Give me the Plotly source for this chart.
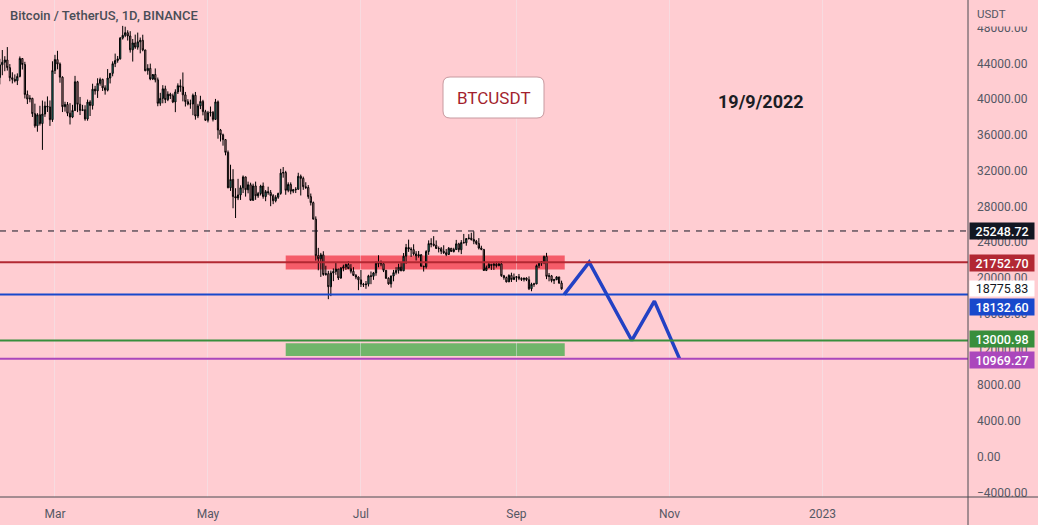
import pandas as pd
import plotly.graph_objects as go

# ---------------- data ----------------
dates = pd.date_range("2022-02-07", "2022-09-19", freq="D")

opens = [
    # Feb 7-28
    42400, 43840, 44120, 44380, 43520, 42390, 42210, 42050, 42540, 44540, 43870, 40520, 40000, 40090, 38370, 37010, 38250, 37260, 38330, 39220, 39120, 37700,
    # Mar
    43190, 44420, 43920, 42450, 39150, 39400, 38420, 37990, 38730, 41940, 39420, 38730, 38810, 37780, 39670, 39280, 41110, 40920, 41760, 42200, 41260, 41000, 42360, 42880, 43960, 44310, 44500, 46820, 47130, 47430, 47060,
    # Apr
    45510, 46280, 45810, 46410, 46580, 45500, 43170, 43440, 42250, 42750, 42160, 39530, 40080, 41150, 39940, 40550, 40380, 39680, 40800, 41500, 41360, 40480, 39710, 39450, 39450, 40430, 38110, 39240, 39740, 38600,
    # May
    37630, 38470, 38530, 37730, 39690, 36550, 36010, 35470, 34040, 30080, 31010, 29100, 28940, 29280, 30080, 31300, 29860, 30420, 28680, 30290, 29180, 29430, 30280, 29100, 29650, 29540, 29200, 28630, 29020, 29450, 31720,
    # Jun
    31790, 29800, 30450, 29700, 29860, 29910, 31370, 31130, 30200, 30110, 29090, 28420, 26570, 22490, 22140, 22580, 20380, 20470, 19010, 20550, 20710, 20990, 19990, 21110, 21230, 21500, 21030, 20740, 20280, 20100,
    # Jul
    19780, 19300, 19240, 19300, 20230, 20180, 20560, 21640, 21590, 21590, 20850, 19960, 19330, 20210, 20590, 20830, 21200, 20790, 22430, 23400, 23230, 23160, 22680, 22460, 22580, 21310, 21250, 22950, 23840, 23780, 23640,
    # Aug
    23290, 23270, 22980, 22820, 22620, 23310, 22950, 23170, 23810, 23150, 23950, 23930, 24400, 24440, 24300, 24100, 23850, 23340, 23190, 20830, 21140, 21520, 21400, 21530, 21370, 21570, 20240, 20040, 19550, 20280, 19810,
    # Sep 1-19
    20050, 20130, 19950, 19830, 19990, 19800, 18790, 19290, 19320, 21360, 21650, 21830, 22400, 20170, 20230, 19700, 19800, 20110, 19420,
]
highs = [
    44500, 45490, 44800, 45820, 43920, 43000, 42760, 42880, 44770, 44580, 44170, 40960, 40440, 40140, 39490, 38430, 39250, 39840, 39730, 40300, 39850, 44230,
    44950, 45400, 44100, 42550, 39700, 39670, 39550, 39360, 42600, 42040, 40240, 39360, 39310, 39950, 39870, 41720, 41480, 42330, 42400, 42290, 41540, 43360, 42890, 44220, 45090, 44820, 46950, 48190, 48100, 47700, 47600,
    46720, 47210, 47440, 46890, 47200, 45510, 43900, 43970, 42800, 43430, 42410, 40700, 41560, 41500, 40870, 40710, 40620, 41100, 41760, 42200, 42980, 40800, 39990, 39940, 40620, 40800, 39470, 40370, 39920, 38800,
    38680, 39170, 38650, 40020, 39850, 36660, 36140, 35500, 34250, 32660, 32160, 30030, 31080, 30350, 31460, 31310, 30770, 30650, 30540, 30770, 29620, 30420, 30670, 29830, 30200, 29830, 29370, 29250, 29530, 32200, 32400,
    31980, 30690, 30680, 29950, 30150, 31760, 31560, 31330, 30700, 30380, 29440, 28540, 26880, 23360, 22800, 22980, 21360, 20790, 20820, 21060, 21720, 21000, 21200, 21480, 21600, 21870, 21540, 21200, 20430, 20170,
    20880, 19440, 19650, 20350, 20720, 20670, 21840, 22530, 21950, 21600, 20880, 20060, 20260, 20890, 21200, 21590, 21680, 22780, 23800, 24280, 23430, 23760, 22990, 23010, 22670, 21350, 23100, 24200, 24440, 24670, 24190,
    23510, 23460, 23650, 23230, 23450, 23350, 23370, 24250, 23930, 24230, 24920, 24450, 24890, 25050, 25210, 24250, 24450, 23600, 23200, 21380, 21690, 21520, 21670, 21820, 21820, 21890, 20340, 20150, 20400, 20580, 20490,
    20200, 20440, 20060, 20000, 20060, 20170, 19460, 19450, 21500, 21790, 21860, 22490, 22800, 20540, 20330, 19890, 20190, 20110, 19690,
]
lows = [
    41650, 42670, 43120, 43190, 42000, 41750, 41870, 41570, 42430, 43310, 40070, 39450, 39640, 38000, 36800, 36350, 37040, 34320, 38010, 38560, 37000, 37450,
    42810, 43330, 41830, 38550, 38600, 38090, 37160, 37870, 38660, 38540, 38220, 38660, 37580, 37580, 38110, 38830, 40500, 40130, 41500, 40910, 40500, 40860, 41750, 42550, 43580, 44070, 44420, 46660, 46930, 46550, 45200,
    44200, 45620, 45530, 45120, 45350, 43120, 42730, 42110, 42130, 41870, 39200, 39250, 39530, 39550, 39770, 40010, 39550, 38540, 40570, 40820, 39750, 39170, 39300, 38920, 38200, 37700, 37870, 38880, 38180, 37580,
    37390, 38050, 37500, 37670, 35570, 35260, 34790, 33710, 30030, 29730, 27790, 26700, 28700, 28720, 29490, 29090, 29460, 28650, 28620, 28730, 28950, 29220, 28860, 28580, 29300, 28020, 28250, 28450, 28840, 29300, 31210,
    29300, 29580, 29350, 29480, 29490, 29880, 29220, 29850, 29940, 28850, 28100, 26560, 21930, 20850, 20110, 20230, 20250, 17620, 17960, 19640, 20350, 19770, 19900, 20740, 20900, 21000, 20500, 20210, 19850, 18630,
    18980, 18980, 18780, 19040, 19300, 19780, 20240, 21190, 21300, 20650, 19880, 19240, 18910, 19620, 20380, 20480, 20760, 20760, 21580, 22910, 22340, 22500, 21950, 22260, 21250, 20710, 21040, 22580, 23420, 23510, 23230,
    22850, 22660, 22680, 22430, 22590, 22930, 22840, 23150, 22870, 22660, 23860, 23600, 24290, 24170, 23770, 23690, 23180, 23100, 20780, 20760, 21100, 20890, 20890, 21160, 21310, 20120, 19800, 19500, 19550, 19540, 19800,
    19560, 19750, 19650, 19600, 19640, 18640, 18510, 19000, 19300, 21100, 21350, 21540, 19860, 19620, 19500, 19320, 19750, 19340, 18680,
]
closes = [
    43840, 44120, 44380, 43520, 42390, 42210, 42050, 42540, 44540, 43870, 40520, 40000, 40090, 38370, 37010, 38250, 37260, 38330, 39220, 39120, 37700, 43190,
    44420, 43920, 42450, 39150, 39400, 38420, 37990, 38730, 41940, 39420, 38730, 38810, 37780, 39670, 39280, 41110, 40920, 41760, 42200, 41260, 41000, 42360, 42880, 43960, 44310, 44500, 46820, 47130, 47430, 47060, 45510,
    46280, 45810, 46410, 46580, 45500, 43170, 43440, 42250, 42750, 42160, 39530, 40080, 41150, 39940, 40550, 40380, 39680, 40800, 41500, 41360, 40480, 39710, 39450, 39450, 40430, 38110, 39240, 39740, 38600, 37630,
    38470, 38530, 37730, 39690, 36550, 36010, 35470, 34040, 30080, 31010, 29100, 28940, 29280, 30080, 31300, 29860, 30420, 28680, 30290, 29180, 29430, 30280, 29100, 29650, 29540, 29200, 28630, 29020, 29450, 31720, 31790,
    29800, 30450, 29700, 29860, 29910, 31370, 31130, 30200, 30110, 29090, 28420, 26570, 22490, 22140, 22580, 20380, 20470, 19010, 20550, 20710, 20990, 19990, 21110, 21230, 21500, 21030, 20740, 20280, 20100, 19780,
    19300, 19240, 19300, 20230, 20180, 20560, 21640, 21590, 21590, 20850, 19960, 19330, 20210, 20590, 20830, 21200, 20790, 22430, 23400, 23230, 23160, 22680, 22460, 22580, 21310, 21250, 22950, 23840, 23780, 23640, 23290,
    23270, 22980, 22820, 22620, 23310, 22950, 23170, 23810, 23150, 23950, 23930, 24400, 24440, 24300, 24100, 23850, 23340, 23190, 20830, 21140, 21520, 21400, 21530, 21370, 21570, 20240, 20040, 19550, 20280, 19810, 20050,
    20130, 19950, 19830, 19990, 19800, 18790, 19290, 19320, 21360, 21650, 21830, 22400, 20170, 20230, 19700, 19800, 20110, 19420, 18775.83,
]

# horizontal price levels
level_names = ["resistance_dashed", "red", "blue", "green", "purple"]
level_values = [25248.72, 21752.70, 18132.60, 13000.98, 10969.27]

# zones (start date, end date, low, high)
zone_starts = ["2022-06-01", "2022-06-01"]
zone_ends = ["2022-09-20 06:00", "2022-09-20 06:00"]
zone_lows = [20950, 11250]
zone_highs = [22500, 12700]

# projected path
proj_dates = ["2022-09-20", "2022-09-30", "2022-10-17", "2022-10-26", "2022-11-05"]
proj_prices = [18132.60, 21752.70, 13000.98, 17400, 10969.27]

# axis ticks
x_tickvals = ["2022-03-01", "2022-05-01", "2022-07-01", "2022-09-01", "2022-11-01", "2023-01-01"]
x_ticktext = ["Mar", "May", "Jul", "Sep", "Nov", "2023"]
y_tickvals = list(range(-4000, 48001, 4000))

# ---------------- style ----------------
BG = "#FFCDD2"
FONT = "Roboto, 'Noto Sans', sans-serif"
AX_TXT = "#555864"
PLOT_W, PLOT_H = 968, 497  # plot area pixels
level_styles = {
    "resistance_dashed": dict(color="#131722", width=1, dash="6px,6px", label_bg="#131722", label_fg="#ffffff", yshift=0),
    "red": dict(color="#b22833", width=2, dash="solid", label_bg="#b22833", label_fg="#ffffff", yshift=-1),
    "blue": dict(color="#1848cc", width=2, dash="solid", label_bg="#1848cc", label_fg="#ffffff", yshift=-12),
    "green": dict(color="#388e3c", width=2, dash="solid", label_bg="#388e3c", label_fg="#ffffff", yshift=1.5),
    "purple": dict(color="#ab47bc", width=2, dash="solid", label_bg="#ab47bc", label_fg="#ffffff", yshift=-1),
}
zone_colors = ["rgba(242,54,69,0.75)", "rgba(76,175,80,0.8)"]


def px_x(px):
    return px / PLOT_W


def px_y(py):
    return 1 - py / PLOT_H


fig = go.Figure()

fig.add_trace(go.Candlestick(
    x=dates, open=opens, high=highs, low=lows, close=closes,
    increasing=dict(line=dict(color="#000000", width=1), fillcolor="#26a69a"),
    decreasing=dict(line=dict(color="#000000", width=1), fillcolor="#f7a9b0"),
    hoverinfo="skip", showlegend=False,
))

fig.add_trace(go.Scatter(
    x=proj_dates, y=proj_prices, mode="lines",
    line=dict(color="#2341c4", width=3.5), hoverinfo="skip", showlegend=False,
))

shapes = []
for s, e, lo, hi, col in zip(zone_starts, zone_ends, zone_lows, zone_highs, zone_colors):
    shapes.append(dict(type="rect", xref="x", yref="y", x0=s, x1=e, y0=lo, y1=hi,
                       fillcolor=col, line=dict(width=0), layer="below"))

for name, val in zip(level_names, level_values):
    st = level_styles[name]
    shapes.append(dict(type="line", xref="paper", yref="y", x0=0, x1=1, y0=val, y1=val,
                       line=dict(color=st["color"], width=st["width"], dash=st["dash"])))

# axis frame lines (cross at bottom-right)
shapes.append(dict(type="line", xref="paper", yref="paper", x0=1, x1=1, y0=px_y(525), y1=1,
                   line=dict(color="#4a4a50", width=1)))
shapes.append(dict(type="line", xref="paper", yref="paper", x0=0, x1=px_x(1038), y0=0, y1=0,
                   line=dict(color="#4a4a50", width=1)))

# rounded box for BTCUSDT
bx0, bx1, by0, by1, r = 443, 544, 77, 118, 7
rx, ry = r / PLOT_W, r / PLOT_H
X0, X1, Y0, Y1 = px_x(bx0), px_x(bx1), px_y(by0), px_y(by1)
path = (f"M {X0+rx},{Y0} L {X1-rx},{Y0} Q {X1},{Y0} {X1},{Y0-ry} "
        f"L {X1},{Y1+ry} Q {X1},{Y1} {X1-rx},{Y1} L {X0+rx},{Y1} Q {X0},{Y1} {X0},{Y1+ry} "
        f"L {X0},{Y0-ry} Q {X0},{Y0} {X0+rx},{Y0} Z")
shapes.append(dict(type="path", xref="paper", yref="paper", path=path,
                   fillcolor="#ffffff", line=dict(color="#c79aa0", width=1)))

annotations = [
    dict(text="Bitcoin / TetherUS, 1D, BINANCE", xref="paper", yref="paper",
         x=px_x(8), y=px_y(16), xanchor="left", yanchor="middle", showarrow=False,
         font=dict(family=FONT, size=13, color="#4a4d57", weight=500)),
    dict(text="USDT", xref="paper", yref="paper", x=1, xshift=8, y=1, yanchor="top",
         xanchor="left", width=60, height=25, align="left", bgcolor=BG, borderpad=0,
         showarrow=False, font=dict(family=FONT, size=11.5, color=AX_TXT)),
    dict(text="BTCUSDT", xref="paper", yref="paper", x=px_x(493.5), y=px_y(98),
         xanchor="center", yanchor="middle", showarrow=False,
         font=dict(family=FONT, size=17, color="#a31f2e")),
    dict(text="19/9/2022", xref="paper", yref="paper", x=px_x(761), y=px_y(101),
         xanchor="center", yanchor="middle", showarrow=False,
         font=dict(family=FONT, size=18, color="#1b1d24", weight="bold")),
]

for name, val in zip(level_names, level_values):
    st = level_styles[name]
    annotations.append(dict(
        text=f"{val:.2f}", xref="paper", yref="y", x=1, xshift=1, y=val, yshift=st["yshift"],
        xanchor="left", yanchor="middle", showarrow=False, width=64, height=16,
        bgcolor=st["label_bg"], borderpad=0, align="center",
        font=dict(family=FONT, size=12.5, color=st["label_fg"], weight=500)))

# current price label
annotations.append(dict(
    text=f"{closes[-1]:.2f}", xref="paper", yref="y", x=1, xshift=1, y=closes[-1],
    xanchor="left", yanchor="middle", showarrow=False, width=64, height=15,
    bgcolor="#ffffff", borderpad=0, align="center",
    font=dict(family=FONT, size=12.5, color="#131722")))

fig.update_layout(
    width=1038, height=525,
    margin=dict(l=0, r=70, t=0, b=28, autoexpand=False),
    paper_bgcolor=BG, plot_bgcolor=BG,
    showlegend=False,
    shapes=shapes, annotations=annotations,
    font=dict(family=FONT, color=AX_TXT, size=12),
    xaxis=dict(
        type="date", range=["2022-02-07 02:00", "2023-02-28 01:00"],
        tickvals=x_tickvals, ticktext=x_ticktext,
        showgrid=True, gridcolor="rgba(238,238,242,0.45)", gridwidth=1,
        zeroline=False, showline=False, ticks="", ticklabelstandoff=8,
        tickfont=dict(family=FONT, size=12, color=AX_TXT),
        rangeslider=dict(visible=False), automargin=False, fixedrange=True,
    ),
    yaxis=dict(
        side="right", range=[-4508, 51085],
        tickvals=y_tickvals, tickformat=".2f",
        showgrid=False, zeroline=False, showline=False, ticks="",
        ticklabelstandoff=8,
        tickfont=dict(family=FONT, size=12, color=AX_TXT),
        automargin=False, fixedrange=True,
    ),
)

fig.write_html(
    "out.html",
    config={"displayModeBar": False},
    post_script="document.body.style.margin='0';document.body.style.overflow='hidden';",
)
